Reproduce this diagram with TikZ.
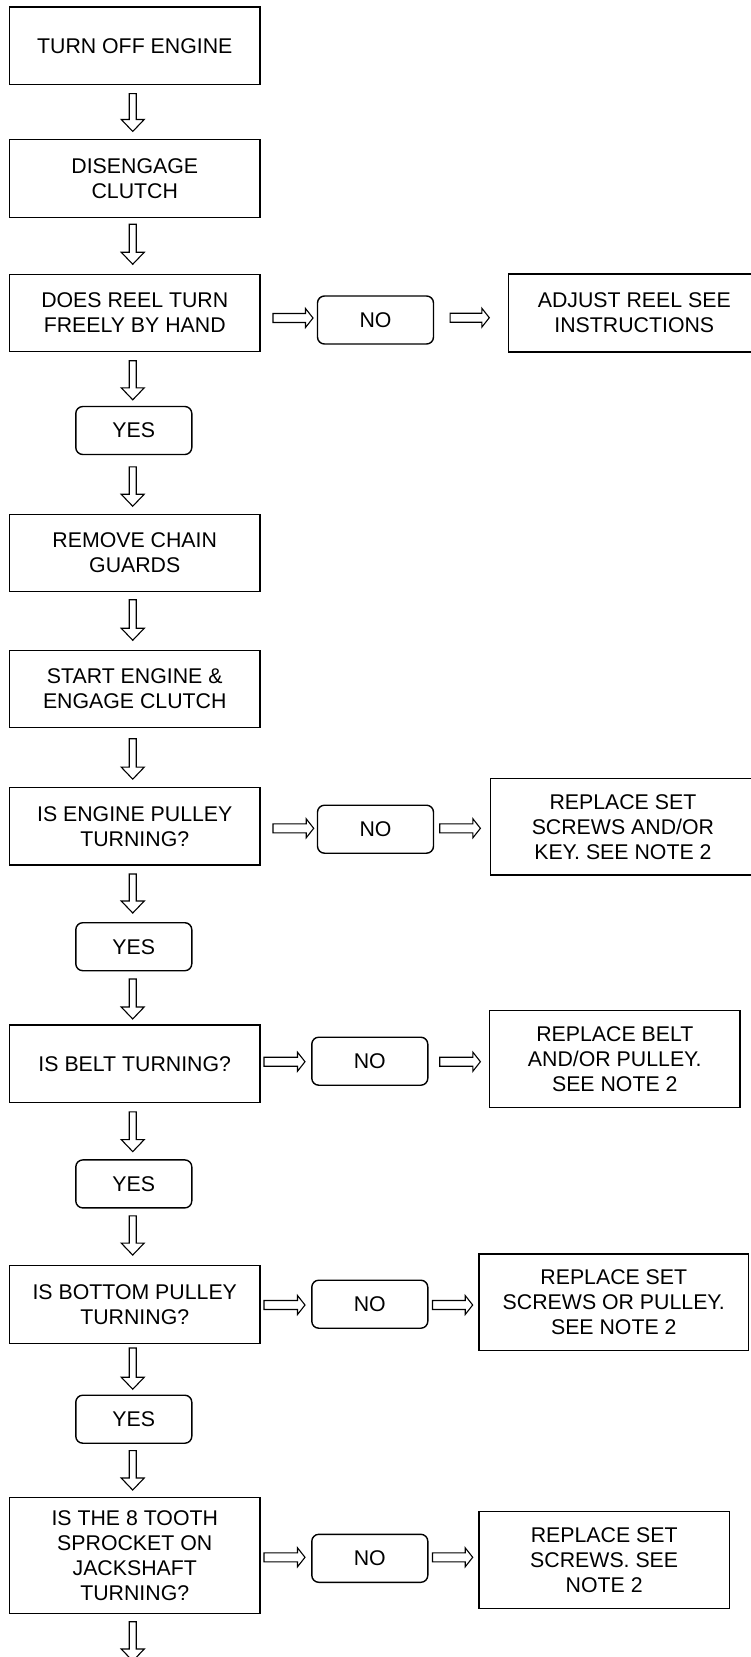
\documentclass[tikz,border=0pt]{standalone}
\usepackage{fontspec}
\setmainfont{Liberation Sans}
\usetikzlibrary{calc}
\begin{document}
\begin{tikzpicture}[x=1pt,y=1pt,
  base/.style={draw, line width=1.4pt, inner sep=0pt, outer sep=0pt, align=center,
    font=\fontsize{21.3}{25}\selectfont},
  box/.style={base, minimum width=250.5pt, minimum height=77.5pt},
  ans/.style={base, rounded corners=7pt, minimum width=116pt, minimum height=48pt},
  vblock/.style={line width=1.1pt, to path={let \p1=(\tikztostart), \p2=(\tikztotarget) in
    (\x1-5.5pt,\y1) -- (\x1+1.5pt,\y1) -- (\x1+1.5pt,\y2+12pt) -- (\x1+9.5pt,\y2+12pt)
    -- (\x1-2pt,\y2) -- (\x1-13.5pt,\y2+12pt) -- (\x1-5.5pt,\y2+12pt) -- cycle}},
  hblock/.style={line width=1.1pt, to path={let \p1=(\tikztostart), \p2=(\tikztotarget) in
    (\x1,\y2+4.5pt) -- (\x2-7.5pt,\y2+4.5pt) -- (\x2-7.5pt,\y2+9.5pt) -- (\x2,\y2)
    -- (\x2-7.5pt,\y2-9.5pt) -- (\x2-7.5pt,\y2-4.5pt) -- (\x1,\y2-4.5pt) -- cycle}}
]
\useasboundingbox (0,0) rectangle (751,-1657);

% main column
\node[box] (b1) at (134.75,-45.8) {TURN OFF ENGINE};
\node[box] (b2) at (134.75,-178.5) {DISENGAGE\\CLUTCH};
\node[box] (b3) at (134.75,-313) {DOES REEL TURN\\FREELY BY HAND};
\node[ans] (y1) at (133.8,-430.5) {YES};
\node[box] (b4) at (134.75,-553) {REMOVE CHAIN\\GUARDS};
\node[box] (b5) at (134.75,-689) {START ENGINE \&\\ENGAGE CLUTCH};
\node[box] (b6) at (134.75,-826.2) {IS ENGINE PULLEY\\TURNING?};
\node[ans] (y2) at (133.8,-946.7) {YES};
\node[box] (b7) at (134.75,-1063.7) {IS BELT TURNING?};
\node[ans] (y3) at (133.8,-1183.9) {YES};
\node[box] (b8) at (134.75,-1304.5) {IS BOTTOM PULLEY\\TURNING?};
\node[ans] (y4) at (133.8,-1419.2) {YES};
\node[box, minimum height=116pt] (b9) at (134.75,-1555.3) {IS THE 8 TOOTH\\SPROCKET ON\\JACKSHAFT\\TURNING?};
\coordinate (end) at (134.75,-1661);

% NO answers
\node[ans] (n1) at (375.5,-320) {NO};
\node[ans] (n2) at (375.5,-829.2) {NO};
\node[ans] (n3) at (369.8,-1061.2) {NO};
\node[ans] (n4) at (369.8,-1304.2) {NO};
\node[ans] (n5) at (369.8,-1558.3) {NO};

% results
\node[base, minimum width=251.4pt, minimum height=78pt] (r1) at (634.3,-313) {ADJUST REEL SEE\\INSTRUCTIONS};
\node[base, minimum width=264.3pt, minimum height=96.7pt] (r2) at (622.9,-826.7) {REPLACE SET\\SCREWS AND/OR\\KEY. SEE NOTE 2};
\node[base, minimum width=250.5pt, minimum height=97pt] (r3) at (614.8,-1059.2) {REPLACE BELT\\AND/OR PULLEY.\\SEE NOTE 2};
\node[base, minimum width=269.6pt, minimum height=96.7pt] (r4) at (613.8,-1302.4) {REPLACE SET\\SCREWS OR PULLEY.\\SEE NOTE 2};
\node[base, minimum width=250.4pt, minimum height=97pt] (r5) at (604.2,-1559.8) {REPLACE SET\\SCREWS. SEE\\NOTE 2};

% down arrows
\draw[vblock] ([yshift=-9pt]b1.south) to ([yshift=8.3pt]b2.north);
\draw[vblock] ([yshift=-7pt]b2.south) to ([yshift=10pt]b3.north);
\draw[vblock] ([yshift=-9pt]b3.south) to ([yshift=6.7pt]y1.north);
\draw[vblock] ([xshift=0.9pt,yshift=-12.4pt]y1.south) to ([yshift=8pt]b4.north);
\draw[vblock] ([yshift=-8pt]b4.south) to ([yshift=10pt]b5.north);
\draw[vblock] ([yshift=-11pt]b5.south) to ([yshift=8.3pt]b6.north);
\draw[vblock] ([yshift=-9pt]b6.south) to ([yshift=9.7pt]y2.north);
\draw[vblock] ([xshift=0.9pt,yshift=-8.3pt]y2.south) to ([yshift=6pt]b7.north);
\draw[vblock] ([yshift=-9.4pt]b7.south) to ([yshift=8.3pt]y3.north);
\draw[vblock] ([xshift=0.9pt,yshift=-8pt]y3.south) to ([yshift=10.7pt]b8.north);
\draw[vblock] ([yshift=-4.7pt]b8.south) to ([yshift=6pt]y4.north);
\draw[vblock] ([xshift=0.9pt,yshift=-7.4pt]y4.south) to ([yshift=7.3pt]b9.north);
\draw[vblock] ([yshift=-8.4pt]b9.south) to (end);

% right arrows
\draw[hblock] ([xshift=13pt]b3.east) to ([xshift=-4.5pt,yshift=2pt]n1.west);
\draw[hblock] ([xshift=16.6pt]n1.east) to ([xshift=-19.3pt,yshift=-4.7pt]r1.west);
\draw[hblock] ([xshift=13pt]b6.east) to ([xshift=-3.8pt,yshift=0.9pt]n2.west);
\draw[hblock] ([xshift=6.2pt]n2.east) to ([xshift=-10.35pt,yshift=-1.6pt]r2.west);
\draw[hblock] ([xshift=4pt]b7.east) to ([xshift=-6.8pt,yshift=-0.5pt]n3.west);
\draw[hblock] ([xshift=11.9pt]n3.east) to ([xshift=-9.15pt,yshift=-2.5pt]r3.west);
\draw[hblock] ([xshift=4pt]b8.east) to ([xshift=-6.8pt,yshift=-0.8pt]n4.west);
\draw[hblock] ([xshift=4.7pt]n4.east) to ([xshift=-6.3pt,yshift=-2.6pt]r4.west);
\draw[hblock] ([xshift=4pt]b9.east) to ([xshift=-6.8pt,yshift=1pt]n5.west);
\draw[hblock] ([xshift=4.7pt]n5.east) to ([xshift=-6.3pt,yshift=2.5pt]r5.west);
\end{tikzpicture}
\end{document}
